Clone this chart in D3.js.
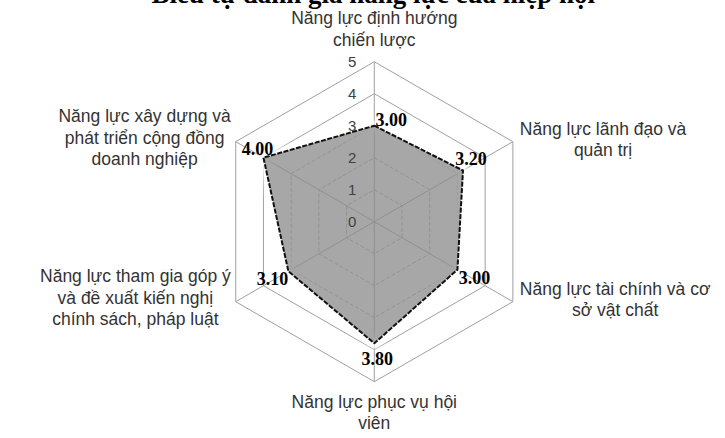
<!DOCTYPE html>
<html>
<head>
<meta charset="utf-8">
<script src="https://cdn.jsdelivr.net/npm/d3@7"></script>
<style>
  body { margin: 0; background: #fff; }
  svg { display: block; }
</style>
</head>
<body>
<div id="chart"></div>
<script>
// data
var title = "Biểu tự đánh giá năng lực của hiệp hội";
var categories = [
    ["Năng lực định hướng", "chiến lược"],
    ["Năng lực lãnh đạo và", "quản trị"],
    ["Năng lực tài chính và cơ", "sở vật chất"],
    ["Năng lực phục vụ hội", "viên"],
    ["Năng lực tham gia góp ý", "và đề xuất kiến nghị", "chính sách, pháp luật"],
    ["Năng lực xây dựng và", "phát triển cộng đồng", "doanh nghiệp"]
];
var values = [3.00, 3.20, 3.00, 3.80, 3.10, 4.00];
var ticks = [0, 1, 2, 3, 4, 5];

var width = 725,
    height = 438,
    cx = 374.3,
    cy = 221.7,
    radius = 160;

var rScale = d3.scaleLinear().domain([0, 5]).range([0, radius]);
var n = categories.length;

function angle(i) { return i * 2 * Math.PI / n; }
function px(i, v) { return cx + rScale(v) * Math.sin(angle(i)); }
function py(i, v) { return cy - rScale(v) * Math.cos(angle(i)); }

var svg = d3.select("#chart").append("svg")
    .attr("width", width)
    .attr("height", height);

var defs = svg.append("defs");
defs.append("filter").attr("id", "glow")
    .attr("x", "-20%").attr("y", "-20%").attr("width", "140%").attr("height", "140%")
    .append("feGaussianBlur").attr("stdDeviation", 2.5);

// grid rings
var ringLine = d3.line().x(function(d) { return d[0]; }).y(function(d) { return d[1]; }).curve(d3.curveLinearClosed);

var grid = svg.append("g").attr("class", "grid");
ticks.filter(function(t) { return t > 0; }).forEach(function(t) {
    var pts = d3.range(n).map(function(i) { return [px(i, t), py(i, t)]; });
    grid.append("path")
        .attr("d", ringLine(pts))
        .attr("fill", "none")
        .attr("stroke", t >= 4 ? "#a0a0a0" : "#a8a8a8")
        .attr("stroke-width", 1)
        .attr("stroke-dasharray", t >= 4 ? null : "4,2");
});

// spokes
d3.range(n).forEach(function(i) {
    grid.append("line")
        .attr("x1", cx).attr("y1", cy)
        .attr("x2", px(i, 5)).attr("y2", py(i, 5))
        .attr("stroke", "#a0a0a0")
        .attr("stroke-width", 1);
});

// series
var seriesPts = values.map(function(v, i) { return [px(i, v), py(i, v)]; });

svg.append("path")
    .attr("d", ringLine(seriesPts))
    .attr("fill", "none")
    .attr("stroke", "#fff")
    .attr("stroke-width", 9)
    .attr("filter", "url(#glow)");

svg.append("path")
    .attr("d", ringLine(seriesPts))
    .attr("fill", "#8a8a8a")
    .attr("fill-opacity", 0.75)
    .attr("stroke", "none");

svg.append("path")
    .attr("d", ringLine(seriesPts))
    .attr("fill", "none")
    .attr("stroke", "#111")
    .attr("stroke-width", 2)
    .attr("stroke-dasharray", "5,1.5")
    .attr("stroke-linejoin", "round");

// axis tick labels
svg.append("g").selectAll("text")
    .data(ticks)
    .enter().append("text")
    .attr("x", cx - 18)
    .attr("y", function(d) { return cy - rScale(d); })
    .attr("dy", "0.35em")
    .attr("text-anchor", "end")
    .style("font-family", "'Liberation Sans', Arial, sans-serif")
    .style("font-size", "15px")
    .style("fill", "#404040")
    .text(function(d) { return d; });

// data labels
var labelOff = [[17, 0], [8, -6], [17, 14], [3, 22], [-16, 14], [-6, -3]];
svg.append("g").selectAll("text")
    .data(values)
    .enter().append("text")
    .attr("x", function(d, i) { return px(i, d) + labelOff[i][0]; })
    .attr("y", function(d, i) { return py(i, d) + labelOff[i][1]; })
    .attr("text-anchor", "middle")
    .style("font-family", "'Liberation Serif', 'Times New Roman', serif")
    .style("font-weight", "bold")
    .style("font-size", "18px")
    .style("fill", "#000")
    .text(function(d) { return d.toFixed(2); });

// category labels
var lineH = 21.5;
var catG = svg.append("g")
    .style("font-family", "'Liberation Sans', Arial, sans-serif")
    .style("font-size", "17.5px")
    .style("fill", "#333");

categories.forEach(function(lines, i) {
    var vx = px(i, 5), vy = py(i, 5);
    var t = catG.append("text").attr("text-anchor", "middle");
    lines.forEach(function(l) {
        t.append("tspan").text(l);
    });
    var maxW = 0;
    t.selectAll("tspan").each(function() {
        maxW = Math.max(maxW, this.getComputedTextLength());
    });
    var x, firstBase;
    var s = Math.sin(angle(i));
    if (Math.abs(s) < 0.01) {
        x = vx;
        if (Math.cos(angle(i)) > 0) {
            firstBase = vy - 16 - (lines.length - 1) * lineH;
        } else {
            firstBase = vy + 26;
        }
    } else {
        x = s > 0 ? Math.min(vx + 7 + maxW / 2, width - 3 - maxW / 2) : vx - 5 - maxW / 2;
        firstBase = vy - (lines.length - 1) * lineH / 2 + 6 - (lines.length - 1) * 2;
    }
    t.selectAll("tspan")
        .attr("x", x)
        .attr("y", function(d, j) { return firstBase + j * lineH; });
});

// title (cut off at top as in the original)
svg.append("text")
    .attr("x", cx - 1)
    .attr("y", 3)
    .attr("text-anchor", "middle")
    .style("font-family", "'Liberation Serif', 'Times New Roman', serif")
    .style("font-weight", "bold")
    .style("font-size", "27px")
    .style("fill", "#000")
    .text(title);
</script>
</body>
</html>
